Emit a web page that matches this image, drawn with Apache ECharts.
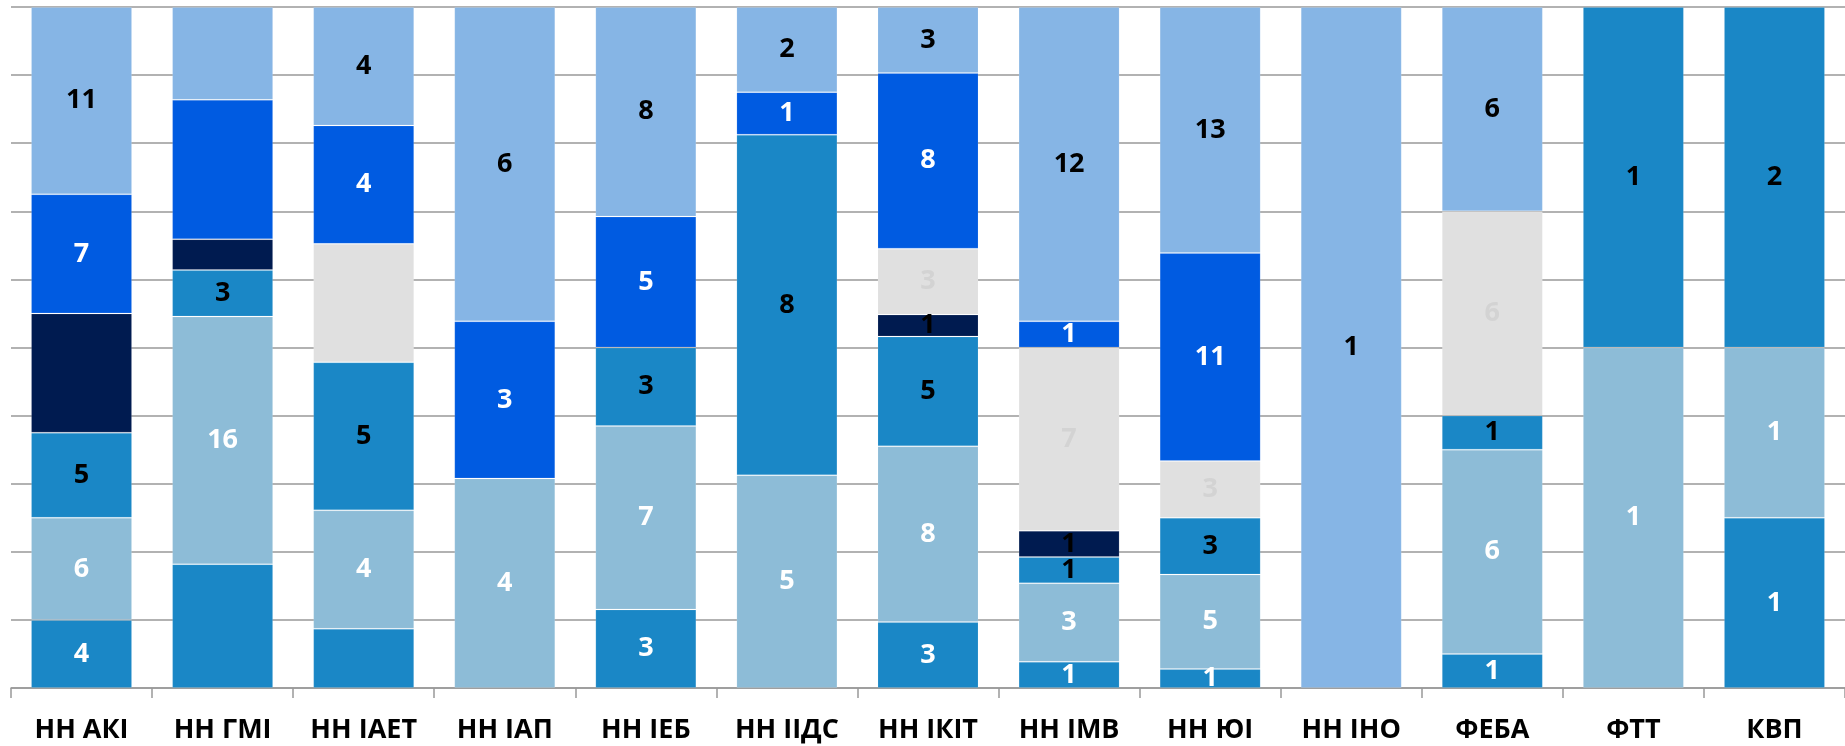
<!DOCTYPE html>
<html>
<head>
<meta charset="utf-8">
<script src="https://cdn.jsdelivr.net/npm/echarts@6/dist/echarts.min.js"></script>
<style>
html,body{margin:0;padding:0;background:#fff;}
#chart{width:1845px;height:746px;}
</style>
</head>
<body>
<div id="chart"></div>
<script>
const categories = ['НН АКІ','НН ГМІ','НН ІАЕТ','НН ІАП','НН ІЕБ','НН ІІДС','НН ІКІТ','НН ІМВ','НН ЮІ','НН ІНО','ФЕБА','ФТТ','КВП'];
const seriesNames = ['s1','s2','s3','s4','s5','s6','s7'];
const s1 = [4, 8, 2, 0, 3, 0, 3, 1, 1, 0, 1, 0, 1];
const s2 = [6, 16, 4, 4, 7, 5, 8, 3, 5, 0, 6, 1, 1];
const s3 = [5, 3, 5, 0, 3, 8, 5, 1, 3, 0, 1, 1, 2];
const s4 = [7, 2, 0, 0, 0, 0, 1, 1, 0, 0, 0, 0, 0];
const s5 = [0, 0, 4, 0, 0, 0, 3, 7, 3, 0, 6, 0, 0];
const s6 = [7, 9, 4, 3, 5, 1, 8, 1, 11, 0, 0, 0, 0];
const s7 = [11, 6, 4, 6, 8, 2, 3, 12, 13, 1, 6, 0, 0];
// labels not shown in the reference: [series index, category index]
const hiddenLabels = [[3,0],[0,1],[3,1],[5,1],[6,1],[0,2],[4,2]];

const allValues = [s1, s2, s3, s4, s5, s6, s7];
const colors = ['#1a87c6','#8dbcd7','#1a87c6','#001b50','#e0e0e0','#005be1','#86b5e5'];
const labelColors = ['#ffffff','#ffffff','#000000','#000000','#d3d3d3','#ffffff','#000000'];

const totals = categories.map((c, i) => allValues.reduce((a, arr) => a + arr[i], 0));

const series = allValues.map((arr, si) => ({
  name: seriesNames[si],
  type: 'bar',
  stack: 'total',
  barCategoryGap: '28.4%',
  itemStyle: { color: colors[si], borderColor: 'rgba(255,255,255,0.12)', borderWidth: 1 },
  label: {
    show: true,
    position: 'inside',
    color: labelColors[si],
    fontFamily: 'Open Sans',
    fontWeight: 'bold',
    fontSize: 27,
    formatter: p => p.data.raw
  },
  data: arr.map((v, ci) => {
    if (!v) return { value: null, raw: '' };
    const hide = hiddenLabels.some(h => h[0] === si && h[1] === ci);
    const item = { value: v / totals[ci] * 100, raw: String(v) };
    if (hide) item.label = { show: false };
    return item;
  })
}));

const chart = echarts.init(document.getElementById('chart'));
chart.setOption({
  animation: false,
  backgroundColor: '#ffffff',
  grid: { left: 11, right: 0, top: 7, bottom: 58 },
  xAxis: {
    type: 'category',
    data: categories,
    axisLine: { lineStyle: { color: '#999999', width: 1.5 } },
    axisTick: { show: true, length: 10, lineStyle: { color: '#999999', width: 1.5 } },
    axisLabel: { color: '#000000', fontFamily: 'Open Sans', fontWeight: 'bold', fontSize: 27, margin: 29 }
  },
  yAxis: {
    type: 'value',
    min: 0, max: 100, interval: 10,
    axisLabel: { show: false },
    axisLine: { show: false },
    axisTick: { show: false },
    splitLine: { lineStyle: { color: '#999999', width: 1.5 } }
  },
  series: series
});
</script>
</body>
</html>
